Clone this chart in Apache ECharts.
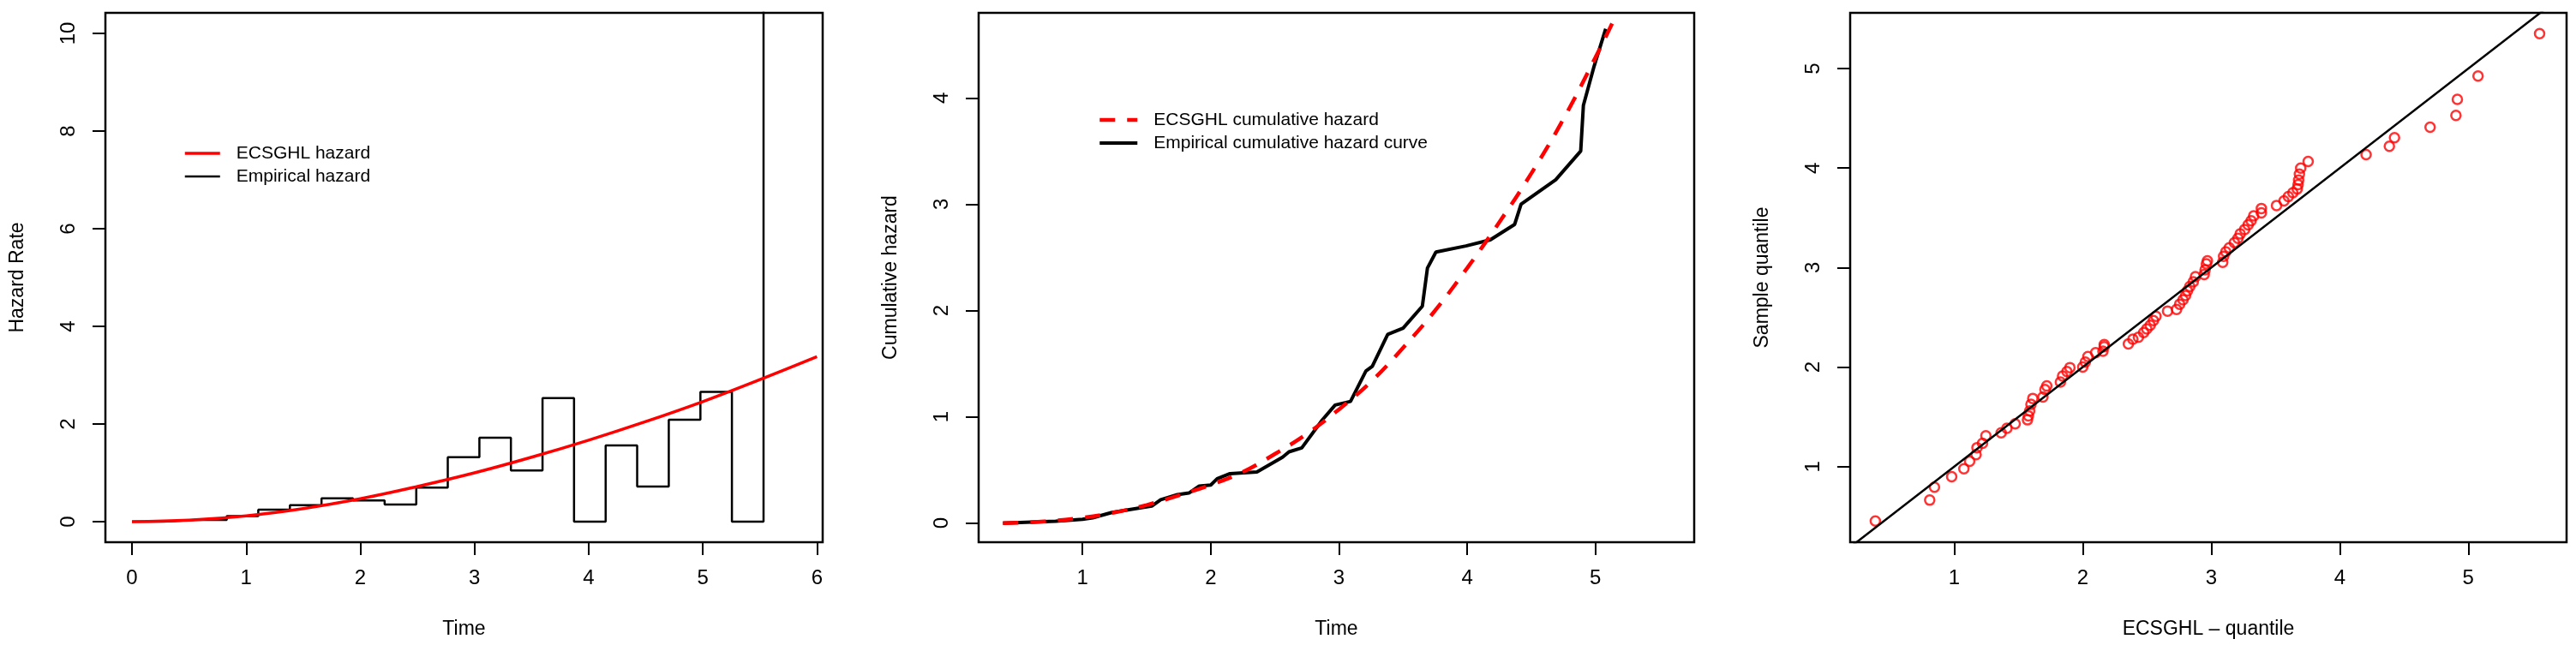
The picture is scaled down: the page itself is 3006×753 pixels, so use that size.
<!DOCTYPE html>
<html>
<head>
<meta charset="utf-8">
<script src="https://cdn.jsdelivr.net/npm/echarts@6/dist/echarts.min.js"></script>
<style>
html,body{margin:0;padding:0;background:#fff;}
#chart{width:3006px;height:753px;}
</style>
</head>
<body>
<div id="chart"></div>
<script>
// ---------- Panel 1: hazard rate ----------
const hazBinEdges = [0, 0.277, 0.553, 0.83, 1.106, 1.383, 1.66, 1.936, 2.213, 2.49, 2.766, 3.043, 3.319, 3.596, 3.872, 4.149, 4.425, 4.702, 4.979, 5.255, 5.532, 5.81];
const hazEmpirical = [0, 0.035, 0.035, 0.117, 0.246, 0.34, 0.48, 0.434, 0.35, 0.70, 1.32, 1.72, 1.05, 2.53, 0, 1.56, 0.72, 2.09, 2.66, 0, 30];
const hazModelX = [0, 0.5, 1, 1.5, 2, 2.5, 3, 3.5, 4, 4.5, 5, 5.5, 6];
const hazModelY = [0, 0.03, 0.12, 0.27, 0.47, 0.72, 1.0, 1.32, 1.67, 2.05, 2.46, 2.91, 3.38];
const hazXTicks = [0, 1, 2, 3, 4, 5, 6];
const hazYTicks = [0, 2, 4, 6, 8, 10];

// ---------- Panel 2: cumulative hazard ----------
const cumEmpX = [0.38, 0.6, 0.79, 1.0, 1.08, 1.23, 1.54, 1.61, 1.74, 1.83, 1.91, 2.0, 2.05, 2.15, 2.36, 2.56, 2.61, 2.71, 2.87, 2.97, 3.09, 3.21, 3.26, 3.38, 3.50, 3.65, 3.69, 3.756, 3.99, 4.18, 4.37, 4.42, 4.69, 4.885, 4.906, 4.99, 5.08];
const cumEmpY = [0.0, 0.01, 0.018, 0.035, 0.05, 0.1, 0.16, 0.22, 0.267, 0.283, 0.348, 0.358, 0.417, 0.465, 0.48, 0.62, 0.67, 0.707, 0.97, 1.11, 1.145, 1.43, 1.475, 1.775, 1.834, 2.04, 2.40, 2.55, 2.607, 2.665, 2.81, 3.0, 3.23, 3.50, 3.93, 4.30, 4.65];
const cumModelX = [0.38, 0.7, 1.0, 1.25, 1.5, 1.75, 2.0, 2.25, 2.5, 2.75, 3.0, 3.25, 3.5, 3.75, 4.0, 4.25, 4.5, 4.75, 5.0, 5.13];
const cumModelY = [0.0, 0.015, 0.05, 0.1, 0.17, 0.26, 0.36, 0.48, 0.65, 0.84, 1.07, 1.33, 1.65, 2.0, 2.40, 2.83, 3.29, 3.80, 4.38, 4.70];
const cumXTicks = [1, 2, 3, 4, 5];
const cumYTicks = [0, 1, 2, 3, 4];

// ---------- Panel 3: QQ plot ----------
const qqTheoretical = [0.386, 0.809, 0.846, 0.98, 1.075, 1.12, 1.17, 1.177, 1.22, 1.246, 1.365, 1.41, 1.474, 1.57, 1.577, 1.587, 1.597, 1.611, 1.69, 1.706, 1.72, 1.826, 1.843, 1.877, 1.90, 2.0, 2.02, 2.04, 2.10, 2.157, 2.167, 2.167, 2.355, 2.39, 2.433, 2.474, 2.498, 2.525, 2.55, 2.57, 2.66, 2.73, 2.754, 2.78, 2.80, 2.815, 2.833, 2.86, 2.877, 2.945, 2.952, 2.962, 2.97, 3.089, 3.096, 3.113, 3.14, 3.18, 3.208, 3.225, 3.26, 3.287, 3.31, 3.33, 3.39, 3.39, 3.508, 3.566, 3.60, 3.635, 3.669, 3.676, 3.68, 3.686, 3.696, 3.754, 4.205, 4.386, 4.426, 4.703, 4.904, 4.915, 5.076, 5.555];
const qqSample = [0.453, 0.663, 0.793, 0.898, 0.979, 1.054, 1.12, 1.19, 1.234, 1.31, 1.34, 1.385, 1.43, 1.47, 1.51, 1.56, 1.625, 1.685, 1.70, 1.775, 1.81, 1.85, 1.91, 1.956, 1.995, 2.0, 2.05, 2.105, 2.145, 2.16, 2.205, 2.226, 2.232, 2.28, 2.30, 2.347, 2.383, 2.42, 2.467, 2.51, 2.563, 2.58, 2.632, 2.677, 2.72, 2.767, 2.81, 2.857, 2.909, 2.93, 2.978, 3.038, 3.068, 3.053, 3.113, 3.158, 3.20, 3.25, 3.293, 3.338, 3.383, 3.43, 3.47, 3.52, 3.55, 3.594, 3.624, 3.67, 3.714, 3.753, 3.79, 3.834, 3.88, 3.94, 4.0, 4.066, 4.135, 4.22, 4.306, 4.41, 4.53, 4.69, 4.926, 5.351];
const qqRefLine = [0, 6];
const qqXTicks = [1, 2, 3, 4, 5];
const qqYTicks = [1, 2, 3, 4, 5];

// ---------- build ----------
const zip = (xs, ys) => xs.map((x, i) => [x, ys[i]]);
const stepPts = [];
for (let k = 0; k < hazEmpirical.length; k++) {
  stepPts.push([hazBinEdges[k], hazEmpirical[k]]);
  stepPts.push([hazBinEdges[k + 1], hazEmpirical[k]]);
}

const FONT = 'Liberation Sans';
const tickStyle = {color: '#000', width: 2};
const RED = '#ff0000';

const lsHazEmp = {color: '#000', width: 2.5};
const lsHazMod = {color: RED, width: 3.5};
const lsCumEmp = {color: '#000', width: 4};
const lsCumMod = {color: RED, width: 4.5, type: [18, 14]};

function xAx(gi, min, max, ticks, name) {
  return {
    gridIndex: gi, type: 'value', min: min, max: max,
    axisLine: {show: false, onZero: false},
    axisTick: {show: true, inside: false, length: 15, lineStyle: tickStyle, customValues: ticks},
    axisLabel: {customValues: ticks, margin: 30, fontSize: 24, color: '#000', fontFamily: FONT,
                formatter: v => String(v)},
    splitLine: {show: false},
    name: name, nameLocation: 'middle', nameGap: 90,
    nameTextStyle: {fontSize: 23, color: '#000', fontFamily: FONT}
  };
}
function yAx(gi, min, max, ticks, name) {
  return {
    gridIndex: gi, type: 'value', min: min, max: max,
    axisLine: {show: false, onZero: false},
    axisTick: {show: true, inside: false, length: 15, lineStyle: tickStyle, customValues: ticks},
    axisLabel: {customValues: ticks, margin: 31, fontSize: 24, color: '#000', fontFamily: FONT,
                rotate: 90, formatter: v => String(v)},
    splitLine: {show: false},
    name: name, nameLocation: 'middle', nameGap: 91,
    nameTextStyle: {fontSize: 23, color: '#000', fontFamily: FONT}
  };
}
const gridBase = {top: 15, height: 618, show: true, borderColor: '#000', borderWidth: 2.5, backgroundColor: 'transparent'};

const legendText = {fontSize: 21, color: '#000', fontFamily: FONT, padding: [0, 0, 0, 14], lineHeight: 22};
const legendSym = {opacity: 0, borderWidth: 0};

const option = {
  animation: false,
  backgroundColor: '#fff',
  textStyle: {fontFamily: FONT},
  grid: [
    Object.assign({left: 123, width: 837}, gridBase),
    Object.assign({left: 1142, width: 835}, gridBase),
    Object.assign({left: 2159, width: 836}, gridBase)
  ],
  xAxis: [
    xAx(0, -0.233, 6.05, hazXTicks, 'Time'),
    xAx(1, 0.19, 5.77, cumXTicks, 'Time'),
    xAx(2, 0.19, 5.765, qqXTicks, 'ECSGHL – quantile')
  ],
  yAxis: [
    yAx(0, -0.42, 10.42, hazYTicks, 'Hazard Rate'),
    yAx(1, -0.18, 4.80, cumYTicks, 'Cumulative hazard'),
    yAx(2, 0.24, 5.56, qqYTicks, 'Sample quantile')
  ],
  legend: [
    {data: [{name: 'ECSGHL hazard', lineStyle: lsHazMod}, {name: 'Empirical hazard', lineStyle: lsHazEmp}],
     orient: 'vertical', left: 214, top: 168,
     itemWidth: 41, itemHeight: 14, itemGap: 5, padding: 0, textStyle: legendText, selectedMode: false,
     itemStyle: legendSym},
    {data: [{name: 'ECSGHL cumulative hazard', lineStyle: lsCumMod}, {name: 'Empirical cumulative hazard curve', lineStyle: lsCumEmp}],
     orient: 'vertical', left: 1281, top: 129,
     itemWidth: 44, itemHeight: 14, itemGap: 5, padding: 0, textStyle: legendText, selectedMode: false,
     itemStyle: legendSym}
  ],
  series: [
    {name: 'Empirical hazard', type: 'line', xAxisIndex: 0, yAxisIndex: 0, data: stepPts,
     symbol: 'none', lineStyle: lsHazEmp, itemStyle: {color: '#000'}, clip: true},
    {name: 'ECSGHL hazard', type: 'line', xAxisIndex: 0, yAxisIndex: 0, data: zip(hazModelX, hazModelY),
     smooth: 0.4, symbol: 'none', lineStyle: lsHazMod, itemStyle: {color: RED}, clip: true},

    {name: 'Empirical cumulative hazard curve', type: 'line', xAxisIndex: 1, yAxisIndex: 1, data: zip(cumEmpX, cumEmpY),
     symbol: 'none', lineStyle: lsCumEmp, itemStyle: {color: '#000'}, clip: true},
    {name: 'ECSGHL cumulative hazard', type: 'line', xAxisIndex: 1, yAxisIndex: 1, data: zip(cumModelX, cumModelY),
     smooth: 0.4, symbol: 'none', lineStyle: lsCumMod, itemStyle: {color: RED}, clip: true},

    {name: 'qq', type: 'scatter', xAxisIndex: 2, yAxisIndex: 2, data: zip(qqTheoretical, qqSample),
     symbol: 'circle', symbolSize: 11,
     itemStyle: {color: 'transparent', borderColor: RED, borderWidth: 2.5}},
    {name: 'ref', type: 'line', xAxisIndex: 2, yAxisIndex: 2, data: zip(qqRefLine, qqRefLine),
     symbol: 'none', lineStyle: {color: '#000', width: 2.5}, clip: true}
  ]
};

const chart = echarts.init(document.getElementById('chart'), null, {renderer: 'canvas'});
chart.setOption(option);
</script>
</body>
</html>
